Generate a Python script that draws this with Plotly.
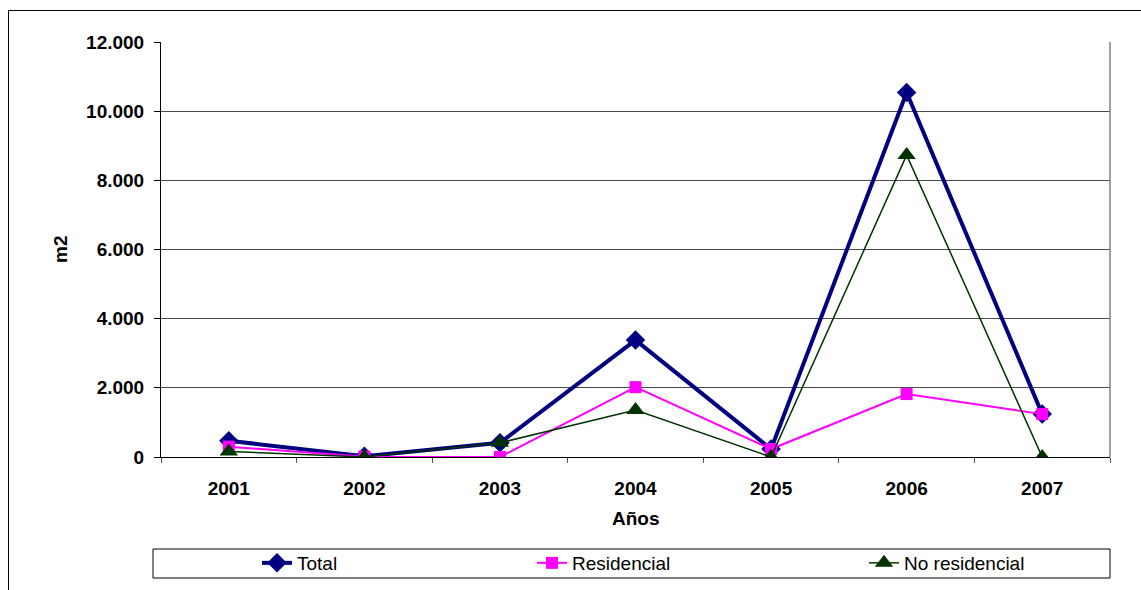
import plotly.graph_objects as go

years = ["2001", "2002", "2003", "2004", "2005", "2006", "2007"]
total = [470, 20, 410, 3380, 230, 10540, 1240]
residencial = [300, 10, 0, 2020, 230, 1820, 1240]
no_residencial = [160, 0, 410, 1360, 0, 8730, 0]

L, R, T, B = 161, 31, 42, 133
W, H = 1141, 590
pw, ph = W - L - R, H - T - B

def px_x(p):
    return (p - L) / pw

def px_y(p):
    return (H - B - p) / ph

fig = go.Figure()
fig.add_trace(go.Scatter(x=years, y=total, name="Total", mode="lines+markers",
                         line=dict(color="#000080", width=4),
                         marker=dict(symbol="diamond", size=15, color="#000080"),
                         legend="legend", showlegend=True))
fig.add_trace(go.Scatter(x=years, y=residencial, name="Residencial", mode="lines+markers",
                         line=dict(color="#FF00FF", width=2),
                         marker=dict(symbol="square", size=12, color="#FF00FF"),
                         legend="legend2", showlegend=True))
fig.add_trace(go.Scatter(x=years, y=no_residencial, name="No residencial", mode="lines+markers",
                         line=dict(color="#003300", width=1.5),
                         marker=dict(symbol="triangle-up", size=16, color="#003300"),
                         legend="legend3", showlegend=True))

font_family = "Liberation Sans, Arial, sans-serif"
FS = 19
leg_common = dict(orientation="h", yref="container", xref="container",
                  yanchor="middle", y=(H - 563) / H, xanchor="left",
                  bgcolor="rgba(0,0,0,0)", font=dict(family=font_family, size=FS, color="black"))

fig.update_layout(
    width=W, height=H,
    margin=dict(l=L, r=R, t=T, b=B),
    paper_bgcolor="white", plot_bgcolor="white",
    separators=",.",
    showlegend=True,
    font=dict(family=font_family, color="black"),
    legend=dict(x=257 / W, **leg_common),
    legend2=dict(x=532 / W, **leg_common),
    legend3=dict(x=864 / W, **leg_common),
    xaxis=dict(type="category", range=[-0.5, 6.5], showgrid=False, zeroline=False,
               showline=True, linecolor="black", linewidth=1,
               ticks="outside", tickson="boundaries", ticklen=5, tickcolor="#555555",
               ticklabelstandoff=14,
               tickfont=dict(family=font_family, size=FS, color="black", weight="bold")),
    yaxis=dict(range=[0, 12000], dtick=2000, tickformat=",d",
               showgrid=True, gridcolor="#4a4a4a", gridwidth=1, zeroline=False,
               showline=True, linecolor="black", linewidth=1,
               ticks="outside", ticklen=6, tickcolor="black",
               ticklabelstandoff=6,
               tickfont=dict(family=font_family, size=FS, color="black", weight="bold")),
    annotations=[
        dict(text="<b>m2</b>", x=px_x(61), y=px_y(250), xref="paper", yref="paper",
             xanchor="center", yanchor="middle",
             textangle=-90, showarrow=False, font=dict(family=font_family, size=FS, color="black")),
        dict(text="<b>Años</b>", x=px_x(636), y=px_y(518), xref="paper", yref="paper",
             xanchor="center", yanchor="middle",
             showarrow=False, font=dict(family=font_family, size=FS, color="black")),
    ],
    shapes=[
        dict(type="line", xref="paper", yref="paper", x0=1, x1=1, y0=0, y1=1,
             line=dict(color="#808080", width=1.5)),
        dict(type="path", xref="paper", yref="paper",
             path=f"M {px_x(8.5)} {px_y(600)} L {px_x(8.5)} {px_y(10.5)} L {px_x(1150)} {px_y(10.5)}",
             line=dict(color="black", width=1)),
        dict(type="rect", xref="paper", yref="paper",
             x0=px_x(153), x1=px_x(1110), y0=px_y(578), y1=px_y(549),
             line=dict(color="black", width=1)),
    ],
)

fig.write_html("out.html", config={"displayModeBar": False},
               post_script="document.body.style.margin='0';document.body.style.overflow='hidden';")
